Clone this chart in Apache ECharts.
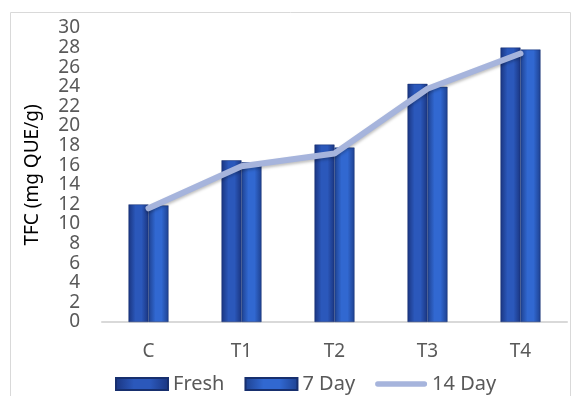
<!DOCTYPE html>
<html>
<head>
<meta charset="utf-8">
<script src="https://cdn.jsdelivr.net/npm/echarts@6/dist/echarts.min.js"></script>
<style>
  html, body { margin: 0; padding: 0; background: #fff; }
  #chart { width: 574px; height: 396px; }
</style>
</head>
<body>
<div id="chart"></div>
<script>
// data
var categories = ['C', 'T1', 'T2', 'T3', 'T4'];
var fresh = [12.0, 16.5, 18.1, 24.3, 28.0];
var day7 = [11.9, 16.3, 17.8, 24.0, 27.8];
var day14 = [11.6, 15.9, 17.2, 23.8, 27.4];

var FONT = '"Noto Sans", "Open Sans", sans-serif';

function barGrad(edge, mid) {
  return new echarts.graphic.LinearGradient(0, 0, 1, 0, [
    { offset: 0, color: edge },
    { offset: 0.35, color: mid },
    { offset: 0.65, color: mid },
    { offset: 1, color: edge }
  ]);
}

var myChart = echarts.init(document.getElementById('chart'));
var option = {
  animation: false,
  graphic: [{
    type: 'rect',
    shape: { x: 10.5, y: 12.5, width: 560, height: 390 },
    style: { fill: 'none', stroke: '#d9d9d9', lineWidth: 1 }
  }],
  grid: { left: 102, right: 7, top: 28, bottom: 74 },
  legend: {
    bottom: -3,
    left: 110,
    itemWidth: 52,
    itemHeight: 12,
    itemGap: 20,
    textStyle: { fontFamily: FONT, fontSize: 20, color: '#595959' },
    data: [
      { name: 'Fresh', icon: 'rect' },
      { name: '7 Day', icon: 'rect' },
      { name: '14 Day', icon: 'path://M3,0 L55,0 A3,3 0 0 1 55,6 L3,6 A3,3 0 0 1 3,0 Z' }
    ]
  },
  xAxis: {
    type: 'category',
    data: categories,
    axisLine: { lineStyle: { color: '#d9d9d9', width: 2 } },
    axisTick: { show: false },
    axisLabel: { margin: 20, fontFamily: FONT, fontSize: 19, color: '#595959' }
  },
  yAxis: {
    type: 'value',
    min: 0,
    max: 30,
    interval: 2,
    name: 'TFC (mg QUE/g)',
    nameLocation: 'middle',
    nameGap: 60,
    nameTextStyle: { fontFamily: FONT, fontSize: 19, color: '#000' },
    axisLine: { show: false },
    axisTick: { show: false },
    splitLine: { show: false },
    axisLabel: {
      margin: 22,
      fontFamily: FONT,
      fontSize: 19,
      color: '#595959',
      lineHeight: 19,
      showMinLabel: true,
      showMaxLabel: true,
      hideOverlap: false
    }
  },
  series: [
    {
      name: 'Fresh',
      type: 'bar',
      data: fresh,
      barWidth: 20,
      barGap: '0%',
      itemStyle: {
        color: barGrad('#1a3580', '#2b58bb'),
        borderColor: '#172f6e',
        borderWidth: 0.5
      }
    },
    {
      name: '7 Day',
      type: 'bar',
      data: day7,
      barWidth: 20,
      itemStyle: {
        color: barGrad('#1e4190', '#3168d1'),
        borderColor: '#172f6e',
        borderWidth: 0.5
      }
    },
    {
      name: '14 Day',
      type: 'line',
      data: day14,
      symbol: 'none',
      z: 5,
      lineStyle: {
        color: '#a6b4dc',
        width: 6,
        cap: 'round',
        join: 'round',
        shadowColor: 'rgba(0,0,0,0.25)',
        shadowBlur: 3,
        shadowOffsetY: 2
      },
      itemStyle: { color: '#a6b4dc' }
    }
  ]
};
myChart.setOption(option);
</script>
</body>
</html>
